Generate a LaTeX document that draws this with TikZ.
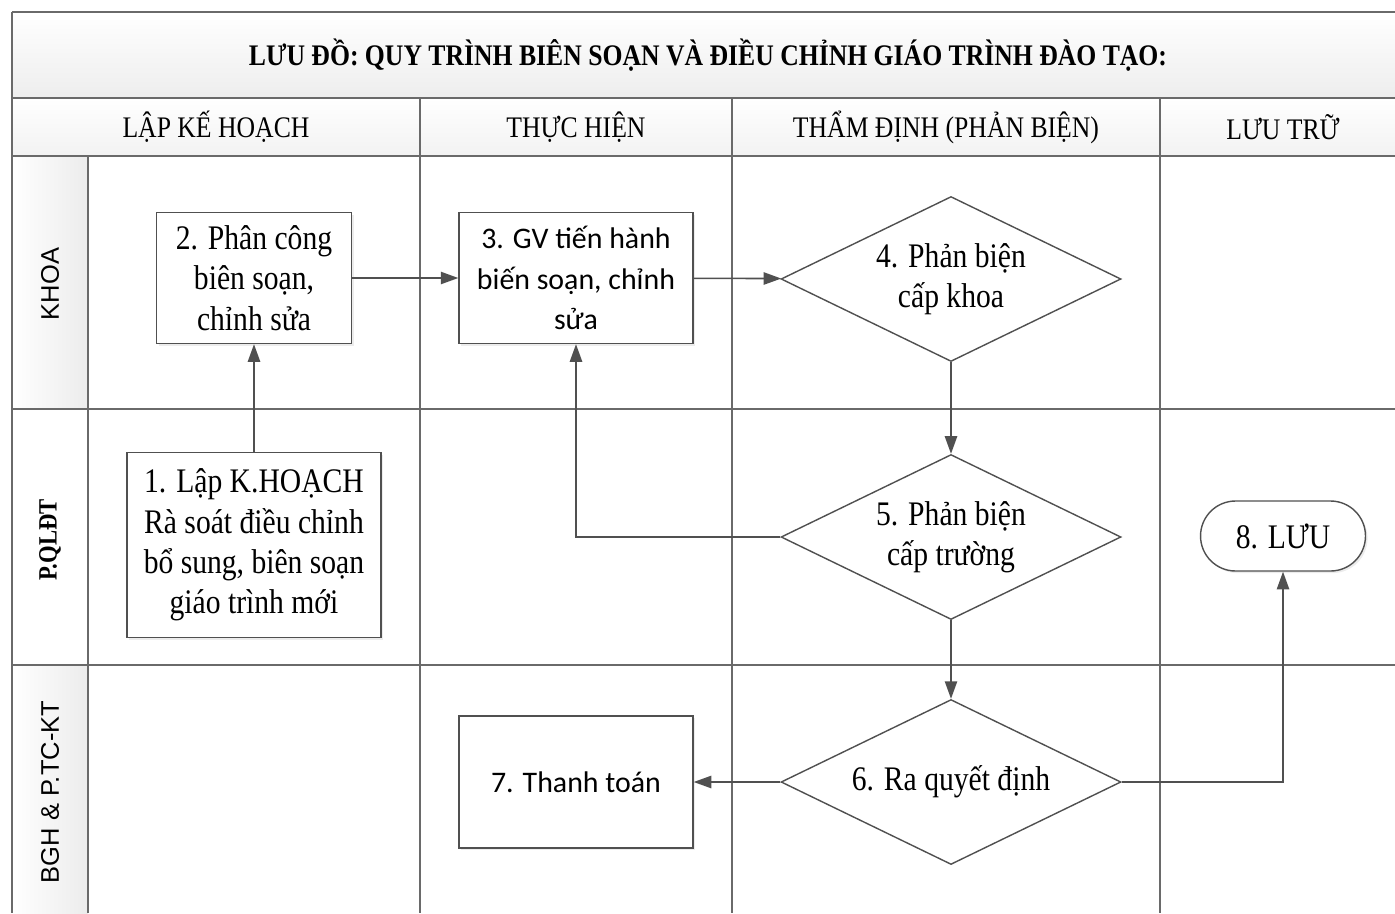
\documentclass[tikz,border=0pt]{standalone}
\usepackage{fontspec}
\setmainfont[FakeStretch=0.86]{Liberation Serif}
\newfontfamily\lanesans{Liberation Sans}
\newfontfamily\calfont{Carlito}
\usetikzlibrary{arrows.meta,shapes.geometric,shadows}
\definecolor{linegray}{HTML}{505050}
\definecolor{framegray}{HTML}{6A6A6A}

\begin{document}
\begin{tikzpicture}[x=0.02cm,y=-0.02cm,
    frame/.style={draw=framegray,line width=1.1pt},
    box/.style={draw=linegray,line width=0.8pt,fill=white,align=center,
        font=\fontsize{19.6}{23}\selectfont,inner sep=2pt,
        drop shadow={opacity=0.15,shadow xshift=1.2pt,shadow yshift=-1.2pt}},
    decision/.style={diamond,aspect=2,draw=linegray,line width=0.8pt,fill=white,align=center,
        font=\fontsize{19.6}{23}\selectfont,inner sep=0pt,
        minimum width=6.8cm,minimum height=3.3cm},
    arr/.style={draw=linegray,line width=0.9pt,-{Triangle[length=10pt,width=7pt]}},
    lane/.style={rotate=90,anchor=center}]
\useasboundingbox (0,0) rectangle (1395,913);

% title and header bands
\shade[top color=white,bottom color=gray!14] (12,12) rectangle (1395,98);
\shade[top color=white,bottom color=gray!10] (12,98) rectangle (1395,156);
\shade[left color=white,right color=gray!15] (12,156) rectangle (88,409);
\shade[left color=white,right color=gray!15] (12,665) rectangle (88,913);

% grid of the swimlanes
\foreach \y in {12,98,156,409,665}
    \draw[frame] (12,\y) -- (1395,\y);
\draw[frame] (12,12) -- (12,913);
\draw[frame] (88,156) -- (88,913);
\foreach \x in {420,732,1160}
    \draw[frame] (\x,98) -- (\x,913);

\node (title) at (708,55) {\fontsize{17}{20}\selectfont\bfseries LƯU ĐỒ: QUY TRÌNH BIÊN SOẠN VÀ ĐIỀU CHỈNH GIÁO TRÌNH ĐÀO TẠO:};
\node (h1) at (216,127) {\fontsize{17}{20}\selectfont LẬP KẾ HOẠCH};
\node (h2) at (576,127) {\fontsize{17}{20}\selectfont THỰC HIỆN};
\node (h3) at (946,127) {\fontsize{17}{20}\selectfont THẨM ĐỊNH (PHẢN BIỆN)};
\node (h4) at (1283,127) {\fontsize{17}{20}\selectfont LƯU TRỮ};

\node[lane] (l1) at (50,284) {\lanesans\fontsize{14.5}{17}\selectfont KHOA};
\node[lane] (l2) at (50,540) {\fontsize{15}{18}\selectfont\bfseries P.QLĐT};
\node[lane] (l3) at (50,792) {\lanesans\fontsize{14.5}{17}\selectfont BGH \& P.TC-KT};

% steps
\node[box,minimum width=5.08cm,minimum height=3.7cm] (b1) at (254,545) {1. Lập K.HOẠCH\\Rà soát điều chỉnh\\bổ sung, biên soạn\\giáo trình mới};
\node[box,minimum width=3.9cm,minimum height=2.62cm] (b2) at (254,278) {2. Phân công\\biên soạn,\\chỉnh sửa};
\node[box,minimum width=4.68cm,minimum height=2.62cm,font=\calfont\fontsize{17}{23}\selectfont] (b3) at (576,278) {3. GV tiến hành\\biến soạn, chỉnh\\sửa};
\node[decision] (d4) at (951,279) {4. Phản biện\\cấp khoa};
\node[decision] (d5) at (951,537) {5. Phản biện\\cấp trường};
\node[decision] (d6) at (951,782) {6. Ra quyết định};
\node[box,minimum width=4.68cm,minimum height=2.64cm,font=\calfont\fontsize{17}{23}\selectfont] (b7) at (576,782) {7. Thanh toán};
\node[box,rounded corners=0.7cm,minimum width=3.3cm,minimum height=1.4cm] (t8) at (1283,536) {8. LƯU};

% connectors
\draw[arr] (b1) -- (b2);
\draw[arr] (b2) -- (b3);
\draw[arr] (b3) -- (d4);
\draw[arr] (d4) -- (d5);
\draw[arr] (d5.west) -| (b3.south);
\draw[arr] (d5) -- (d6);
\draw[arr] (d6.west) -- (b7.east);
\draw[arr] (d6.east) -| (t8.south);
\end{tikzpicture}
\end{document}
